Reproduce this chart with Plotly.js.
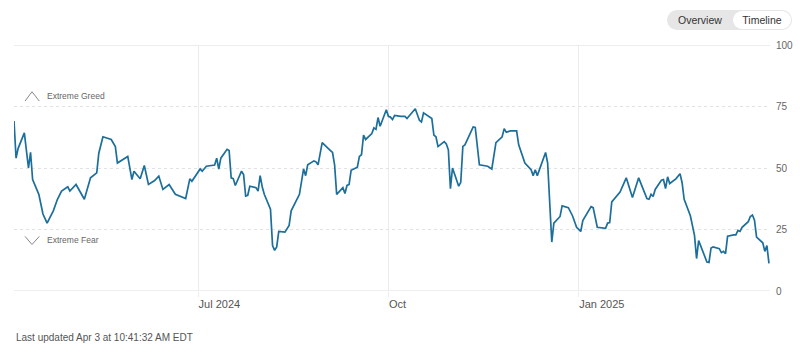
<!DOCTYPE html>
<html>
<head>
<meta charset="utf-8">
<script src="https://cdn.plot.ly/plotly-3.0.1.min.js"></script>
<style>
  html, body { margin:0; padding:0; background:#fff; }
  #wrap { position:relative; width:800px; height:352px; overflow:hidden; font-family:"Liberation Sans", Arial, sans-serif; }
  #chart { position:absolute; left:0; top:0; width:800px; height:352px; }
  #toggle { position:absolute; left:667px; top:10px; width:125px; height:20px; border-radius:10px; background:#e6e6e6; }
  #toggle span { position:absolute; top:0; height:20px; line-height:20px; font-size:10.5px; color:#333; text-align:center; }
  #ov { left:0; width:66px; }
  #tl { left:66px; top:1px !important; height:18px !important; line-height:18px !important; width:58px; background:#fff; border-radius:9px; }
</style>
</head>
<body>
<div id="wrap">
  <div id="chart"></div>
  <div id="toggle"><span id="ov">Overview</span><span id="tl">Timeline</span></div>
</div>
<script>
const dates = [
  "2024-04-03","2024-04-04","2024-04-05","2024-04-08","2024-04-10","2024-04-11","2024-04-12","2024-04-15","2024-04-17","2024-04-19",
  "2024-04-22","2024-04-24","2024-04-26","2024-04-29","2024-04-30","2024-05-03","2024-05-07","2024-05-10","2024-05-13","2024-05-14",
  "2024-05-16","2024-05-20","2024-05-22","2024-05-23","2024-05-28","2024-05-30","2024-05-31","2024-06-03","2024-06-05","2024-06-07",
  "2024-06-10","2024-06-12","2024-06-14","2024-06-17","2024-06-20","2024-06-25","2024-06-27","2024-06-28","2024-07-02","2024-07-03",
  "2024-07-05","2024-07-09","2024-07-10","2024-07-11","2024-07-12","2024-07-15","2024-07-16","2024-07-17","2024-07-18","2024-07-19",
  "2024-07-22","2024-07-23","2024-07-24","2024-07-25","2024-07-26","2024-07-29","2024-07-30","2024-07-31","2024-08-01","2024-08-02",
  "2024-08-05","2024-08-06","2024-08-07","2024-08-08","2024-08-09","2024-08-12","2024-08-14","2024-08-15","2024-08-19","2024-08-21",
  "2024-08-22","2024-08-23","2024-08-26","2024-08-27","2024-08-28","2024-08-30","2024-09-03","2024-09-04","2024-09-05","2024-09-06",
  "2024-09-09","2024-09-10","2024-09-11","2024-09-12","2024-09-13","2024-09-16","2024-09-17","2024-09-18","2024-09-19","2024-09-20",
  "2024-09-23","2024-09-24","2024-09-25","2024-09-26","2024-09-27","2024-09-30","2024-10-01","2024-10-02","2024-10-03","2024-10-04",
  "2024-10-07","2024-10-09","2024-10-10","2024-10-14","2024-10-16","2024-10-17","2024-10-18","2024-10-22","2024-10-23","2024-10-24",
  "2024-10-25","2024-10-28","2024-10-29","2024-10-30","2024-10-31","2024-11-01","2024-11-04","2024-11-05","2024-11-06","2024-11-07",
  "2024-11-11","2024-11-12","2024-11-14","2024-11-18","2024-11-20","2024-11-22","2024-11-25","2024-11-26","2024-11-27","2024-11-29",
  "2024-12-02","2024-12-03","2024-12-06","2024-12-09","2024-12-10","2024-12-11","2024-12-12","2024-12-16","2024-12-17","2024-12-18",
  "2024-12-19","2024-12-20","2024-12-23","2024-12-24","2024-12-27","2024-12-29","2024-12-31","2025-01-02","2025-01-03","2025-01-07",
  "2025-01-08","2025-01-10","2025-01-14","2025-01-15","2025-01-16","2025-01-17","2025-01-19","2025-01-21","2025-01-24","2025-01-27",
  "2025-01-30","2025-02-01","2025-02-03","2025-02-04","2025-02-05","2025-02-06","2025-02-07","2025-02-10","2025-02-11","2025-02-12",
  "2025-02-13","2025-02-14","2025-02-17","2025-02-19","2025-02-20","2025-02-21","2025-02-24","2025-02-26","2025-02-27","2025-02-28",
  "2025-03-03","2025-03-04","2025-03-05","2025-03-06","2025-03-07","2025-03-10","2025-03-11","2025-03-12","2025-03-13","2025-03-14",
  "2025-03-17","2025-03-18","2025-03-19","2025-03-20","2025-03-21","2025-03-24","2025-03-25","2025-03-26","2025-03-27","2025-03-28",
  "2025-03-31","2025-04-01","2025-04-02","2025-04-03"
];
const scores = [
  69.1,54,58,64.3,50,56.4,45.3,39.3,31.3,27.6,
  32.6,37.3,40.6,42.4,40.6,43.3,37.3,46,48,56,
  62.7,61.6,58.7,52,54.7,45.3,48.7,45.6,51,43.3,
  44.9,46.7,41.3,43.3,39.3,37.6,45.6,44.6,49.6,48.7,
  50.7,51.2,54,49.6,54,57.6,57.1,46,45.7,42.9,
  48.7,47.3,38.6,38.9,42.6,42,40.6,46.9,42.4,39.3,
  33.3,18.5,16.5,17.9,24.2,23.9,26.6,32.6,39.3,49.6,
  46.9,51.3,52.9,52.5,51.3,60.3,57.1,56.3,51.3,39.3,
  42,39.6,42.9,43.3,49.1,50.3,54.7,55.4,63.4,61.6,
  64,66.3,65.7,70.5,67,73.7,71,70.7,69.7,71.4,
  71,71,70.1,74.1,69.4,68.7,72.4,70.1,63.4,62.7,
  58.7,60.7,59.8,57.4,41.6,50,42.6,44.2,58.8,59.4,
  66.7,66.5,51.3,50.7,49.6,60.3,62.7,66,64.5,65.1,
  65.1,59.4,52,49.3,46.9,49.3,46.9,56.3,52,33.9,
  19.9,27.6,30.3,34.6,33.9,30.6,25.9,24.2,28.6,34.3,
  33.9,25.9,25.5,27.6,27.8,36.2,38,40.2,46,38,
  46,42,37.6,37.3,39.3,38.4,41.3,45,45.3,41.6,
  46.4,43.7,45.6,47.7,44,37.3,30.6,22.6,13.2,20.5,
  14.5,11.8,11.6,17.5,17.9,17.2,15.6,16.1,15.2,22.3,
  22.8,22.8,24.6,24.2,25.9,28.2,30.3,30.9,28.8,21.9,
  19.6,16.1,18.5,11.2
];
const xTickVals = ["2024-07-01","2024-10-01","2025-01-01"];
const xTickText = ["Jul 2024","Oct","Jan 2025"];
const yTickVals = [0,25,50,75,100];
const greedLabel = "Extreme Greed";
const fearLabel = "Extreme Fear";
const footer = "Last updated Apr 3 at 10:41:32 AM EDT";

const FONT = '"Liberation Sans", Arial, sans-serif';

const trace = {
  x: dates, y: scores, type: 'scatter', mode: 'lines',
  line: { color: '#1c6e9b', width: 1.7 },
  hoverinfo: 'skip'
};

const layout = {
  width: 800, height: 352,
  margin: { l: 14, r: 30, t: 45, b: 61 },
  paper_bgcolor: '#fff', plot_bgcolor: '#fff',
  showlegend: false,
  font: { family: FONT, color: '#555' },
  xaxis: {
    type: 'date',
    range: ['2024-04-03', '2025-04-03 12:00'],
    tickvals: xTickVals, ticktext: xTickText,
    ticklabelposition: 'outside right',
    showgrid: true, gridcolor: '#ebebeb', gridwidth: 1,
    ticks: 'outside', ticklen: 5, tickcolor: '#ebebeb',
    ticklabelstandoff: 3,
    tickfont: { size: 11, color: '#555', family: FONT },
    zeroline: false, showline: false, fixedrange: true
  },
  yaxis: {
    side: 'right', range: [0, 100],
    tickvals: yTickVals,
    showgrid: true, gridcolor: '#e2e2e2', griddash: '3px,3px', gridwidth: 1,
    ticks: '', ticklabelstandoff: 5,
    tickfont: { size: 10, color: '#666', family: FONT },
    zeroline: false, showline: false, fixedrange: true
  },
  shapes: [
    { type: 'line', xref: 'paper', yref: 'y', x0: 0, x1: 1, y0: 0, y1: 0, line: { color: '#dcdcdc', width: 1 }, layer: 'below' },
    { type: 'line', xref: 'paper', yref: 'y', x0: 0, x1: 1, y0: 100, y1: 100, line: { color: '#dcdcdc', width: 1 }, layer: 'below' },
    { type: 'path', xref: 'paper', yref: 'y', path: 'M 0.0146 77.2 L 0.0238 81.0 L 0.0335 77.2', line: { color: '#888', width: 1 } },
    { type: 'path', xref: 'paper', yref: 'y', path: 'M 0.0146 22.2 L 0.0238 18.9 L 0.0335 22.2', line: { color: '#888', width: 1 } }
  ],
  annotations: [
    { xref: 'paper', yref: 'y', x: 0.041, y: 79.2, text: greedLabel, showarrow: false, xanchor: 'left', yanchor: 'middle', font: { size: 8.5, color: '#666', family: FONT } },
    { xref: 'paper', yref: 'y', x: 0.041, y: 20.7, text: fearLabel, showarrow: false, xanchor: 'left', yanchor: 'middle', font: { size: 8.5, color: '#666', family: FONT } },
    { xref: 'paper', yref: 'paper', x: 0, y: -0.19, text: footer, showarrow: false, xanchor: 'left', yanchor: 'middle', font: { size: 10, color: '#555', family: FONT } }
  ]
};

Plotly.newPlot('chart', [trace], layout, { displayModeBar: false, staticPlot: true });
</script>
</body>
</html>
